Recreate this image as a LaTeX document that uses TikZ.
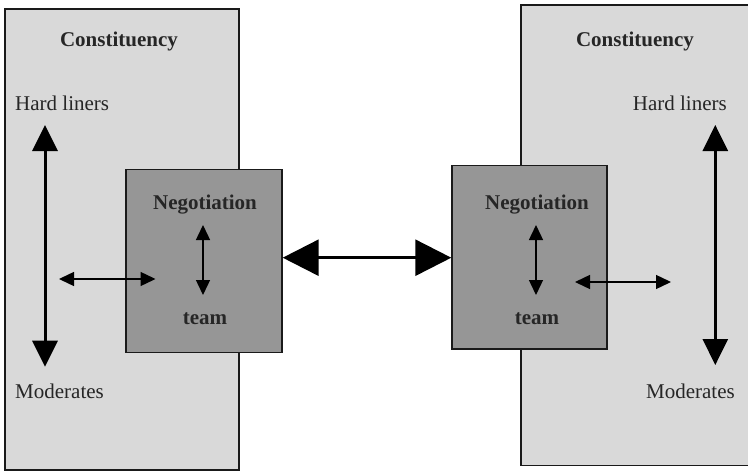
\documentclass[tikz,border=0pt]{standalone}
\usepackage{fontspec}
\setmainfont{Liberation Serif}
\usetikzlibrary{arrows.meta}
\definecolor{pale}{HTML}{D9D9D9}
\definecolor{mid}{HTML}{969696}
\definecolor{ink}{HTML}{262626}
\definecolor{edge}{HTML}{1A1A1A}
\begin{document}
\begin{tikzpicture}[x=1pt,y=-1pt,
  outerbox/.style={draw=edge,line width=1.4pt,fill=pale,minimum width=#1,inner sep=0pt},
  teambox/.style={draw=edge,line width=1.4pt,fill=mid,inner sep=0pt},
  lbl/.style={text=ink,inner sep=0pt,font=\fontsize{21}{25}\selectfont},
  blbl/.style={lbl,font=\fontsize{21}{25}\selectfont\bfseries},
  bigarrow/.style={line width=3pt,{Triangle[length=26pt,width=25pt]}-{Triangle[length=26pt,width=25pt]}},
  hugearrow/.style={line width=2.7pt,{Triangle[length=36pt,width=36pt]}-{Triangle[length=36pt,width=36pt]}},
  smallarrow/.style={line width=1.4pt,{Triangle[length=15pt,width=14pt]}-{Triangle[length=15pt,width=14pt]}}]
\useasboundingbox (0,0) rectangle (748,471);
\clip (0,0) rectangle (748,471);

% constituency panels
\node[outerbox=234pt,minimum height=461pt] (lcon) at (122,239.5) {};
\node[outerbox=240pt,minimum height=460.5pt] (rcon) at (641,235.25) {};

% negotiation teams
\node[teambox,minimum width=156pt,minimum height=183pt] (lneg) at (204,261) {};
\node[teambox,minimum width=155pt,minimum height=183.5pt] (rneg) at (529.5,257.25) {};

% left side labels
\node[blbl] (lct) at (119,41) {Constituency};
\node[lbl,anchor=west] (lhard) at (15,103) {Hard liners};
\node[lbl,anchor=west] (lmod) at (15,391) {Moderates};
\node[blbl] (lnt) at (205,204.5) {Negotiation};
\node[blbl] (ltm) at (205,319) {team};

% right side labels
\node[blbl] (rct) at (635,41) {Constituency};
\node[lbl,anchor=east] (rhard) at (727,103) {Hard liners};
\node[lbl,anchor=east] (rmod) at (735,391) {Moderates};
\node[blbl] (rnt) at (537,204.5) {Negotiation};
\node[blbl] (rtm) at (537,319) {team};

% arrow end points
\coordinate (lspt) at (45,125);
\coordinate (lspb) at (45,366.7);
\coordinate (rspt) at (715.3,125);
\coordinate (rspb) at (715.3,365);
\coordinate (lin) at (59,279);
\coordinate (lout) at (155.5,279);
\coordinate (rin) at (575,282);
\coordinate (rout) at (671,282);
\coordinate (ltt) at (203,225);
\coordinate (ltb) at (203,295);
\coordinate (rtt) at (536,225);
\coordinate (rtb) at (536,295);
\coordinate (link) at (366,257.7);

% spectrum arrows
\draw[bigarrow] (lspt) -- (lspb);
\draw[bigarrow] (rspt) -- (rspb);

% team to constituency
\draw[smallarrow] (lin) -- (lout);
\draw[smallarrow] (rin) -- (rout);

% within the teams
\draw[smallarrow] (ltt) -- (ltb);
\draw[smallarrow] (rtt) -- (rtb);

% between the teams
\draw[hugearrow] (lneg.east |- link) -- (rneg.west |- link);
\end{tikzpicture}
\end{document}
